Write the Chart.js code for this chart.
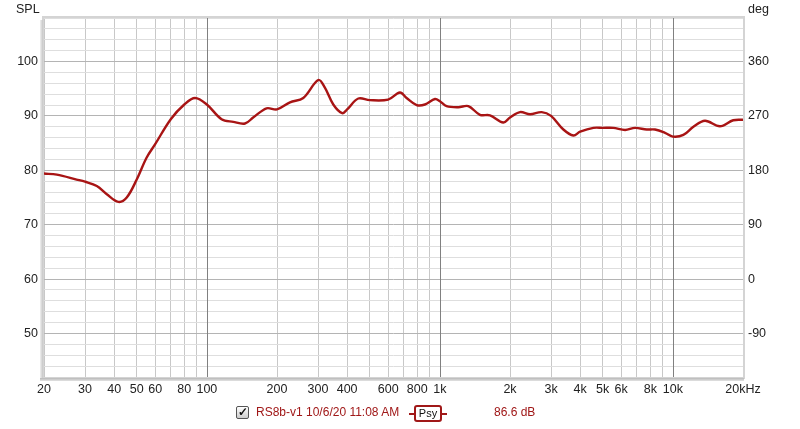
<!DOCTYPE html>
<html><head><meta charset="utf-8">
<script src="https://cdn.jsdelivr.net/npm/chart.js@4"></script>
<style>
html,body{margin:0;padding:0;background:#fff;}
#wrap{position:relative;width:800px;height:429px;}
canvas{position:absolute;left:0;top:0;}
.t{position:absolute;font-family:"Liberation Sans",Arial,sans-serif;font-size:12.5px;color:#222;white-space:nowrap;}
#legend{position:absolute;left:236px;top:405px;height:17px;font-family:"Liberation Sans",Arial,sans-serif;font-size:12px;color:#a01818;white-space:nowrap;}
#cb{position:absolute;left:0;top:1px;width:11px;height:11px;border:1px solid #555;border-radius:2px;background:linear-gradient(#fff,#ccc);color:#111;font-size:12px;line-height:11px;text-align:center;font-weight:bold;}
#lt{position:absolute;left:20px;top:0px;}
#ln{position:absolute;left:173px;top:8px;width:38px;height:2px;background:#a01818;}
#psy{position:absolute;left:178px;top:0px;width:24px;height:13px;border:2px solid #a01818;border-radius:3px;background:#fff;color:#111;font-size:11px;line-height:13px;text-align:center;}
#db{position:absolute;left:258px;top:0px;}
</style></head>
<body><div id="wrap"><canvas id="c" width="800" height="429"></canvas>
<div class="t" style="left:16px;top:2px;">SPL</div>
<div class="t" style="left:748px;top:2px;">deg</div>
<div id="legend"><div id="cb">✓</div><div id="lt">RS8b-v1 10/6/20 11:08 AM</div><div id="ln"></div><div id="psy">Psy</div><div id="db">86.6 dB</div></div>
</div>
<script>
const freqs = [20,22.7,27.6,30,33.7,37.2,41.7,45.3,50,55.1,60,70,80,89,100,115.6,129.8,145.8,158,180.4,200,227.4,259.3,300.8,321,348.8,381,400,446.6,500,600,674,720,795,863,953,1000,1069,1200,1325,1486,1641,1872,2000,2208,2438,2736,3000,3389,3742,4000,4559,5000,5549,6237,6878,7723,8382,9252,10000,11090,12250,13740,15920,18160,20000];
const spl = [79.4,79.2,78.3,77.9,77.1,75.6,74.2,75.0,78.3,82.3,84.8,89.4,92.1,93.3,92.1,89.4,88.9,88.6,89.7,91.4,91.2,92.5,93.3,96.6,95.2,92.1,90.5,91.2,93.2,92.9,93.0,94.3,93.3,92.0,92.1,93.1,92.7,91.8,91.6,91.8,90.2,90.1,88.8,89.7,90.7,90.3,90.7,90.0,87.5,86.4,87.1,87.8,87.8,87.8,87.4,87.8,87.5,87.5,86.9,86.2,86.5,88.0,89.1,88.1,89.2,89.3];
const xTicks = [20,30,40,50,60,70,80,90,100,200,300,400,500,600,700,800,900,1000,2000,3000,4000,5000,6000,7000,8000,9000,10000,20000];
const xDecades = [100,1000,10000];
const xLabels = {20:'20',30:'30',40:'40',50:'50',60:'60',80:'80',100:'100',200:'200',300:'300',400:'400',600:'600',800:'800',1000:'1k',2000:'2k',3000:'3k',4000:'4k',5000:'5k',6000:'6k',8000:'8k',10000:'10k',20000:'20kHz'};
const splMin = 42, splMax = 108, splStep = 2;
const degMin = -162, degMax = 432, degStep = 18;

const font = {family:'"Liberation Sans", Arial, sans-serif', size:12.5};
const decadeLines = {
  id:'decadeLines',
  beforeDatasetsDraw(chart){
    const {ctx, chartArea:a, scales} = chart;
    ctx.save();
    ctx.strokeStyle = '#808080'; ctx.lineWidth = 1;
    xDecades.forEach(v=>{
      const px = Math.round(scales.x.getPixelForValue(v)) + 0.5;
      ctx.beginPath(); ctx.moveTo(px, a.top); ctx.lineTo(px, a.bottom); ctx.stroke();
    });
    ctx.restore();
  }
};
const frame = {
  id:'frame',
  afterDraw(chart){
    const {ctx, chartArea:a} = chart;
    ctx.save();
    ctx.strokeStyle = '#d4d4d4'; ctx.lineWidth = 2;
    ctx.strokeRect(a.left-1, a.top-1, a.right-a.left+2, a.bottom-a.top+2);
    let g = ctx.createLinearGradient(a.left-4,0,a.left,0);
    g.addColorStop(0,'#f0f0f0'); g.addColorStop(1,'#b8b8b8');
    ctx.fillStyle = g; ctx.fillRect(a.left-4, a.top+2, 3, a.bottom-a.top+1);
    g = ctx.createLinearGradient(0,a.bottom+1,0,a.bottom+5);
    g.addColorStop(0,'#b8b8b8'); g.addColorStop(1,'#f0f0f0');
    ctx.fillStyle = g; ctx.fillRect(a.left-4, a.bottom+1, a.right-a.left+5, 3);
    ctx.restore();
  }
};
new Chart(document.getElementById('c'), {
  type:'line',
  data:{datasets:[{data:freqs.map((f,i)=>({x:f,y:spl[i]})),borderColor:'#a81414',borderWidth:2.4,pointRadius:0,tension:0.35,yAxisID:'y'}]},
  options:{
    responsive:false,animation:false,
    layout:{padding:{top:18,left:0,right:0,bottom:0}},
    plugins:{legend:{display:false},tooltip:{enabled:false}},
    scales:{
      x:{type:'logarithmic',min:20,max:20000,
        afterBuildTicks(s){s.ticks = xTicks.map(v=>({value:v}));},
        afterFit(s){s.height = 52;},
        ticks:{autoSkip:false,maxRotation:0,padding:5,color:'#222',font,callback:(v)=>xLabels[v]||''},
        grid:{color:(c)=>xDecades.includes(c.tick.value)?'rgba(0,0,0,0)':'#c8c8c8',lineWidth:1,drawTicks:false},
        border:{display:false}},
      y:{position:'left',min:splMin,max:splMax,
        afterFit(s){s.width = 44;},
        ticks:{stepSize:splStep,autoSkip:false,padding:6,color:'#222',font,callback:(v)=>v%10===0?String(v):''},
        grid:{color:(c)=>c.tick.value%10===0?'#b4b4b4':'#dedede',lineWidth:1,drawTicks:false},
        border:{display:false}},
      y2:{position:'right',display:true,min:degMin,max:degMax,
        afterFit(s){s.width = 57;},
        ticks:{stepSize:degStep,autoSkip:false,padding:5,color:'#222',font,callback:(v)=>v%90===0?String(v):''},
        grid:{display:false,drawTicks:false},
        border:{display:false}}
    }
  },
  plugins:[decadeLines, frame]
});
</script></body></html>
